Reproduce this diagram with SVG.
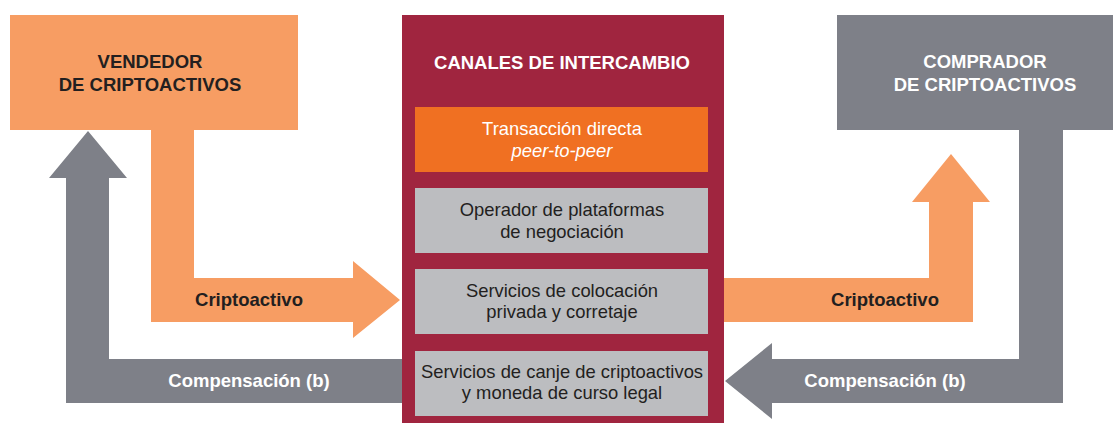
<svg xmlns="http://www.w3.org/2000/svg" width="1113" height="423" viewBox="0 0 1113 423">
<style>
.b{font-family:"Liberation Sans",Arial,sans-serif;font-weight:bold;font-size:18.5px;text-anchor:middle}
.r{font-family:"Liberation Sans",Arial,sans-serif;font-size:18.4px;text-anchor:middle}
.dk{fill:#231F20}
.wh{fill:#FFFFFF}
.or{fill:#F79D63}
.gr{fill:#7E8088}
.sub{fill:#BCBDC0}
</style>
<rect width="1113" height="423" fill="#FFFFFF"/>
<g id="connectors">
  <g id="vendedor-to-canales">
    <polygon class="or" points="151,130 194,130 194,278 353,278 353,261 400,300 353,338 353,322 151,322"/>
    <text class="b dk" x="249" y="306">Criptoactivo</text>
  </g>
  <g id="canales-to-vendedor">
    <polygon class="gr" points="410,359 410,403 66,403 66,178 49,178 88,131 127,178 109,178 109,359"/>
    <text class="b wh" x="249" y="386.5">Compensación (b)</text>
  </g>
  <g id="canales-to-comprador">
    <polygon class="or" points="720,278 929,278 929,202 912,202 951,154 990,202 973,202 973,322 720,322"/>
    <text class="b dk" x="885" y="306">Criptoactivo</text>
  </g>
  <g id="comprador-to-canales">
    <polygon class="gr" points="1019,125 1063,125 1063,403 772,403 772,419 725,381 772,343 772,359 1019,359"/>
    <text class="b wh" x="885" y="386.5">Compensación (b)</text>
  </g>
</g>
<g id="vendedor">
  <rect x="10" y="15" width="288" height="115" class="or"/>
  <text class="b dk" x="150" y="68.3">VENDEDOR</text>
  <text class="b dk" x="150" y="91">DE CRIPTOACTIVOS</text>
</g>
<g id="comprador">
  <rect x="837" y="15" width="276" height="115" class="gr"/>
  <text class="b wh" x="985" y="68.3">COMPRADOR</text>
  <text class="b wh" x="985" y="91">DE CRIPTOACTIVOS</text>
</g>
<g id="canales">
  <rect x="402" y="15" width="322" height="408" fill="#A0253F"/>
  <text class="b wh" x="562" y="69">CANALES DE INTERCAMBIO</text>
  <g id="canal-p2p">
    <rect x="415" y="107" width="293" height="65" fill="#F07022"/>
    <text class="r wh" x="562" y="135">Transacción directa</text>
    <text class="r wh" x="562" y="156.5" font-style="italic">peer-to-peer</text>
  </g>
  <g id="canal-plataformas">
    <rect x="415" y="188" width="293" height="65" class="sub"/>
    <text class="r dk" x="562" y="215.5">Operador de plataformas</text>
    <text class="r dk" x="562" y="237.5">de negociación</text>
  </g>
  <g id="canal-colocacion">
    <rect x="415" y="269" width="293" height="65" class="sub"/>
    <text class="r dk" x="562" y="296.5">Servicios de colocación</text>
    <text class="r dk" x="562" y="318">privada y corretaje</text>
  </g>
  <g id="canal-canje">
    <rect x="415" y="351" width="293" height="65" class="sub"/>
    <text class="r dk" x="562" y="377.5">Servicios de canje de criptoactivos</text>
    <text class="r dk" x="562" y="399">y moneda de curso legal</text>
  </g>
</g>
</svg>
